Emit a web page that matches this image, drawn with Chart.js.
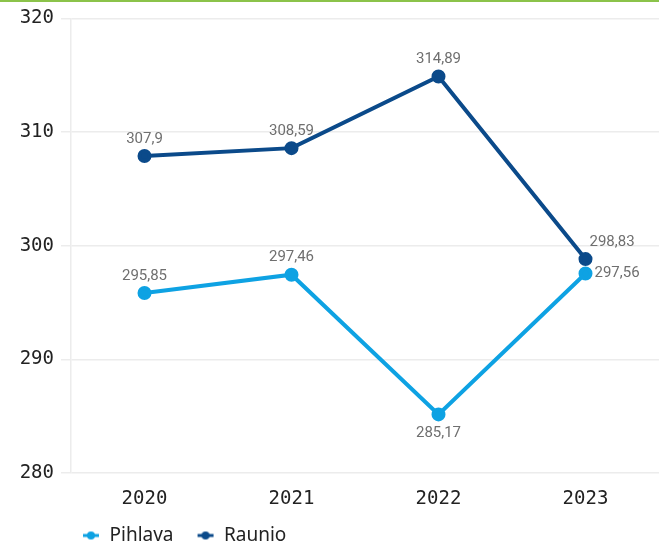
<!DOCTYPE html>
<html>
<head>
<meta charset="utf-8">
<script src="https://cdn.jsdelivr.net/npm/chart.js@4"></script>
<style>
  html, body { margin: 0; padding: 0; background: #fff; overflow: hidden; }
  #wrap { position: relative; width: 659px; height: 548px; overflow: hidden; }
  #topbar { position: absolute; left: 0; top: 0; width: 659px; height: 2px; background: #8bc34a; z-index: 2; }
  #box { position: absolute; left: 0; top: 0; width: 668px; height: 548px; }
</style>
</head>
<body>
<div id="wrap">
  <div id="topbar"></div>
  <div id="box"><canvas id="chart" width="668" height="548"></canvas></div>
</div>
<script>
// data
const years = ['2020', '2021', '2022', '2023'];
const pihlava = [295.85, 297.46, 285.17, 297.56];
const raunio = [307.9, 308.59, 314.89, 298.83];
const yTicks = [280, 290, 300, 310, 320];

const lightBlue = '#0ea2e3';
const darkBlue = '#0b4a8a';

// legend marker: small line with a dot
function legendMarker(color) {
  const c = document.createElement('canvas');
  c.width = 18; c.height = 10;
  const g = c.getContext('2d');
  g.strokeStyle = color;
  g.lineWidth = 3;
  g.beginPath(); g.moveTo(1, 5); g.lineTo(17, 5); g.stroke();
  g.fillStyle = color;
  g.beginPath(); g.arc(9, 5, 4, 0, Math.PI * 2); g.fill();
  return c;
}

const fmt = v => String(v).replace('.', ',');

// value labels next to points, placement per point
const labelPos = [
  ['up', 'up', 'down', 'right'],
  ['up', 'up', 'up', 'upright']
];

const valueLabels = {
  id: 'valueLabels',
  afterDatasetsDraw(chart) {
    const ctx = chart.ctx;
    ctx.save();
    ctx.font = '15px Roboto, "Noto Sans", sans-serif';
    ctx.fillStyle = '#6f6f6f';
    chart.data.datasets.forEach((ds, di) => {
      chart.getDatasetMeta(di).data.forEach((pt, i) => {
        const pos = labelPos[di][i];
        const txt = fmt(ds.data[i]);
        let x = pt.x, y = pt.y;
        ctx.textBaseline = 'middle';
        if (pos === 'up') { ctx.textAlign = 'center'; y -= 17; }
        else if (pos === 'down') { ctx.textAlign = 'center'; y += 19; }
        else if (pos === 'right') { ctx.textAlign = 'left'; x += 9; }
        else { ctx.textAlign = 'left'; x += 4; y -= 17; }
        ctx.fillText(txt, x, y);
      });
    });
    ctx.restore();
  }
};

// put the legend row under the plot, left aligned with it
const legendShift = {
  id: 'legendShift',
  beforeDraw(chart) {
    if (chart.legend) {
      chart.legend.left = 59;
      chart.legend.top = 503;
    }
  }
};

new Chart(document.getElementById('chart'), {
  type: 'line',
  data: {
    labels: years,
    datasets: [
      {
        label: 'Pihlava',
        data: pihlava,
        borderColor: lightBlue,
        backgroundColor: lightBlue,
        borderWidth: 4,
        pointRadius: 5,
        pointStyle: 'circle',
        tension: 0
      },
      {
        label: 'Raunio',
        data: raunio,
        borderColor: darkBlue,
        backgroundColor: darkBlue,
        borderWidth: 4,
        pointRadius: 5,
        pointStyle: 'circle',
        tension: 0
      }
    ]
  },
  options: {
    responsive: false,
    animation: false,
    devicePixelRatio: 1,
    layout: { padding: { top: 16, left: 0, right: 0, bottom: -20 } },
    plugins: {
      tooltip: { enabled: false },
      legend: {
        position: 'bottom',
        align: 'start',
        labels: {
          usePointStyle: true,
          pointStyleWidth: 18,
          color: '#222',
          font: { family: '"Noto Sans", Roboto, sans-serif', size: 19 },
          padding: 23,
          generateLabels(chart) {
            return chart.data.datasets.map((ds, i) => ({
              text: ds.label,
              pointStyle: legendMarker(ds.borderColor),
              fillStyle: ds.borderColor,
              strokeStyle: ds.borderColor,
              lineWidth: 0,
              fontColor: '#222',
              datasetIndex: i,
              hidden: false
            }));
          }
        }
      }
    },
    scales: {
      x: {
        offset: true,
        grid: { display: false },
        border: { display: false },
        ticks: {
          color: '#222',
          padding: 6,
          font: { family: '"DejaVu Sans Mono", monospace', size: 19 }
        }
      },
      y: {
        min: 280,
        max: 320,
        afterFit(scale) { scale.width = 71; },
        afterBuildTicks(scale) { scale.ticks = yTicks.map(v => ({ value: v })); },
        grid: { color: '#ececec', tickLength: 10, lineWidth: 1.5 },
        border: { color: '#ececec', width: 1.5 },
        ticks: {
          color: '#222',
          padding: 7,
          font: { family: '"DejaVu Sans Mono", monospace', size: 19 }
        }
      }
    }
  },
  plugins: [valueLabels, legendShift]
});
</script>
</body>
</html>
